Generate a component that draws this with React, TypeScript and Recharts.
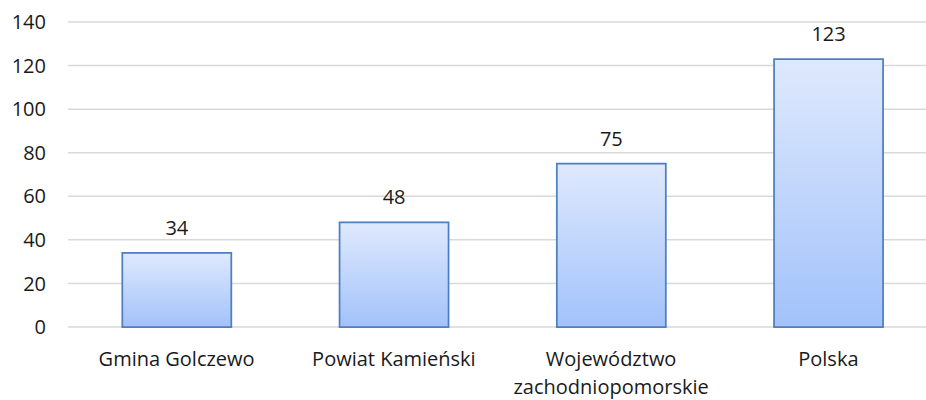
import React from 'react';
import { BarChart, Bar, XAxis, YAxis, CartesianGrid, LabelList } from 'recharts';

const categories = ['Gmina Golczewo', 'Powiat Kamieński', 'Województwo zachodniopomorskie', 'Polska'];
const values = [34, 48, 75, 123];
const yTicks = [0, 20, 40, 60, 80, 100, 120, 140];

const FONT = '"Open Sans", sans-serif';
const TEXT = '#1a1a1a';

const data = categories.map((name, i) => ({ name, value: values[i] }));

function CategoryTick(props: any) {
  const { x, y, payload } = props;
  const text: string = payload.value;
  const lines = text.length > 20 ? text.split(' ') : [text];
  return (
    <text x={x} y={y} textAnchor="middle" fill={TEXT} fontSize={20} fontFamily={FONT}>
      {lines.map((line, i) => (
        <tspan key={i} x={x} dy={i === 0 ? 39 : 28}>{line}</tspan>
      ))}
    </text>
  );
}

export default function App() {
  return (
    <div style={{ position: 'absolute', left: 0, top: 0, width: 926, height: 400, overflow: 'hidden', background: '#fff' }}>
      <BarChart
        width={937}
        height={400}
        data={data}
        margin={{ top: 22, right: 0, left: 0, bottom: 0 }}
        barCategoryGap="25%"
      >
        <defs>
          <linearGradient id="barFill" x1="0" y1="0" x2="0" y2="1">
            <stop offset="0%" stopColor="#dfe9fd" />
            <stop offset="100%" stopColor="#a2c2fa" />
          </linearGradient>
        </defs>
        <CartesianGrid vertical={false} stroke="#d9d9d9" strokeWidth={1.5} />
        <YAxis
          domain={[0, 140]}
          ticks={yTicks}
          width={68}
          axisLine={false}
          tickLine={false}
          tickSize={0}
          tickMargin={22}
          tick={{ fontSize: 20, fill: TEXT, fontFamily: FONT }}
        />
        <XAxis
          dataKey="name"
          height={73}
          axisLine={false}
          tickLine={false}
          tickSize={0}
          tickMargin={0}
          interval={0}
          tick={<CategoryTick />}
        />
        <Bar dataKey="value" fill="url(#barFill)" stroke="#4f7fbe" strokeWidth={1.75} isAnimationActive={false}>
          <LabelList dataKey="value" position="top" offset={18} fill={TEXT} fontSize={20} fontFamily={FONT} />
        </Bar>
      </BarChart>
    </div>
  );
}
